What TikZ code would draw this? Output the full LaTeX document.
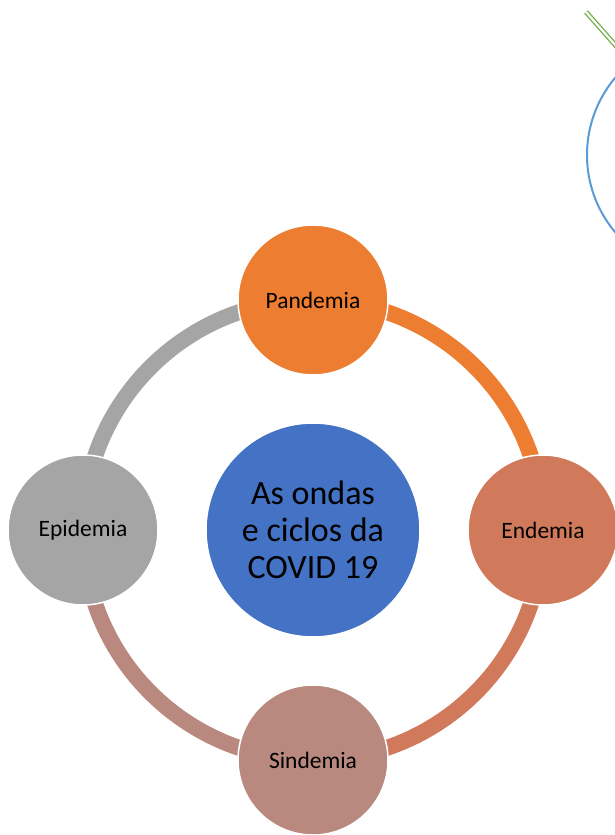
\documentclass[tikz,border=0pt]{standalone}
\usepackage{fontspec}
\setmainfont{Carlito}
\definecolor{cPan}{HTML}{ED7D31}
\definecolor{cEnd}{HTML}{D07A5B}
\definecolor{cSin}{HTML}{B9887E}
\definecolor{cEpi}{HTML}{A5A5A5}
\definecolor{cMid}{HTML}{4472C4}
\definecolor{cBlue}{HTML}{5B9BD5}
\definecolor{cGreen}{HTML}{70AD47}
\tikzset{
  x=1pt,y=1pt,
  phase/.style={circle, minimum size=150pt, inner sep=0pt, draw=white, line width=1.5pt,
    font=\fontsize{23.5}{26}\selectfont, text=black},
  hub/.style={circle, minimum size=214pt, inner sep=0pt, fill=cMid, draw=white, line width=1.5pt,
    align=center, font=\fontsize{34}{37}\selectfont, text=black},
  ringarc/.style={line width=16pt, line cap=butt},
}
\begin{document}
\begin{tikzpicture}
\useasboundingbox (0,0) rectangle (615,835);
\clip (0,0) rectangle (615,835);
\coordinate (c) at (313,305);
% ring arcs
\draw[ringarc, cPan] ([shift={(90:230)}]c) arc[start angle=90, end angle=0, radius=230];
\draw[ringarc, cEnd] ([shift={(0:230)}]c) arc[start angle=0, end angle=-90, radius=230];
\draw[ringarc, cSin] ([shift={(-90:230)}]c) arc[start angle=-90, end angle=-180, radius=230];
\draw[ringarc, cEpi] ([shift={(180:230)}]c) arc[start angle=180, end angle=90, radius=230];
% nodes
\node[hub] (hub) at (c) {As ondas\\e ciclos da\\COVID 19};
\node[phase, fill=cPan] (pan) at (313,535) {Pandemia};
\node[phase, fill=cEnd] (end) at (543,305) {Endemia};
\node[phase, fill=cSin] (sin) at (313,75) {Sindemia};
\node[phase, fill=cEpi] (epi) at (83,305) {Epidemia};
% top right fragments
\node[circle, draw=cBlue, line width=2pt, minimum size=240pt, inner sep=0pt] (bc) at (707,680) {};
\coordinate (g1) at (586,823);
\coordinate (g2) at (640,762);
\draw[cGreen, line width=1.3pt, double=white, double distance=2.2pt] (g1) -- (g2);
\end{tikzpicture}
\end{document}
